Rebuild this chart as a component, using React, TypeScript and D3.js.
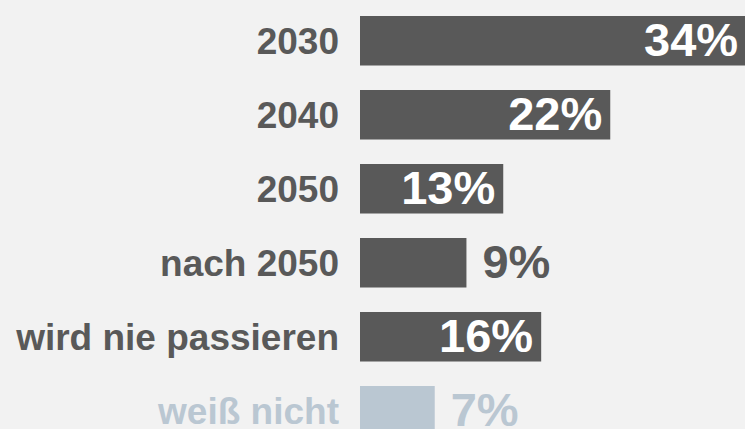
import React from "react";
import * as d3 from "d3";

const categories = ["2030", "2040", "2050", "nach 2050", "wird nie passieren", "weiß nicht"];
const values = [34.1, 22.1, 12.65, 9.4, 16.0, 6.6];
const highlight = [true, true, true, true, true, false];

const W = 745;
const H = 429;
const DARK = "#595959";
const LIGHT = "#bac7d2";
const BG = "#f2f2f2";
const FONT = "'Liberation Sans', Arial, Helvetica, sans-serif";

export default function App() {
  const x = d3.scaleLinear().domain([0, 34]).range([360, 745]);
  const y = d3
    .scaleBand<string>()
    .domain(categories)
    .range([16, 16 + 74 * (categories.length - 0.331)])
    .paddingInner(0.331)
    .paddingOuter(0);
  const bw = y.bandwidth();
  const catSize = 37;
  const valSize = 47;

  return (
    <svg
      width={W}
      height={H}
      style={{ position: "absolute", left: 0, top: 0, display: "block" }}
    >
      <rect x={0} y={0} width={W} height={H} fill={BG} />
      {categories.map((c, i) => {
        const v = values[i];
        const y0 = y(c) as number;
        const cy = y0 + bw / 2;
        const color = highlight[i] ? DARK : LIGHT;
        const x0 = x(0);
        const x1 = x(v);
        const label = `${Math.round(v)}%`;
        const inside = v >= 10;
        const tx = inside ? x1 - 8 : x1 + 16;
        return (
          <g key={c}>
            <rect x={x0} y={y0} width={x1 - x0} height={bw} fill={color} />
            <text
              x={339}
              y={cy + catSize * 0.358}
              textAnchor="end"
              fontFamily={FONT}
              fontWeight="bold"
              fontSize={catSize}
              fill={color}
            >
              {c}
            </text>
            <text
              x={tx}
              y={cy + valSize * 0.358 - 2}
              textAnchor={inside ? "end" : "start"}
              fontFamily={FONT}
              fontWeight="bold"
              fontSize={valSize}
              fill={inside ? "#ffffff" : color}
            >
              {label}
            </text>
          </g>
        );
      })}
    </svg>
  );
}
